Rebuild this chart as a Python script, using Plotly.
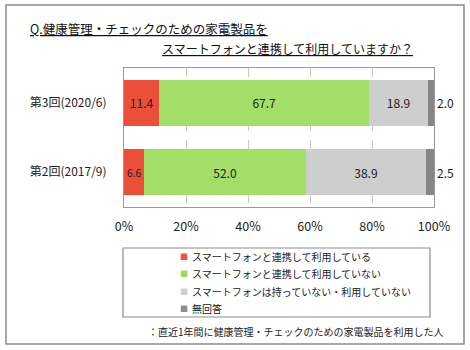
import plotly.graph_objects as go

categories = ["第3回(2020/6)", "第2回(2017/9)"]
series_names = ["スマートフォンと連携して利用している", "スマートフォンと連携して利用していない",
                "スマートフォンは持っていない・利用していない", "無回答"]
values = {
    series_names[0]: [11.4, 6.6],
    series_names[1]: [67.7, 52.0],
    series_names[2]: [18.9, 38.9],
    series_names[3]: [2.0, 2.5],
}
colors = ["#EB4F3A", "#A3DE68", "#CECECE", "#868686"]
tick_vals = [0, 20, 40, 60, 80, 100]
tick_text = ["0%", "20%", "40%", "60%", "80%", "100%"]

FONT = "Noto Sans CJK JP"
fig = go.Figure()
for i, name in enumerate(series_names):
    last = i == len(series_names) - 1
    fig.add_trace(go.Bar(
        y=categories, x=values[name], name=name, orientation="h",
        marker=dict(color=colors[i], line=dict(width=0)),
        text=[f"{v:.1f}" for v in values[name]],
        textposition="outside" if last else "inside",
        insidetextanchor="middle",
        textfont=dict(family=FONT, size=12, color="#222"),
        outsidetextfont=dict(family=FONT, size=12, color="#222"),
        cliponaxis=False,
        hoverinfo="skip",
        showlegend=False,
    ))

fig.update_layout(
    width=470, height=350,
    barmode="stack", bargap=0.34,
    margin=dict(l=124, r=36, t=68, b=143),
    paper_bgcolor="white", plot_bgcolor="white",
    font=dict(family=FONT, size=12, color="#222"),
    xaxis=dict(range=[0, 100], tickvals=tick_vals, ticktext=tick_text,
               showgrid=True, gridcolor="#C8C8C8", griddash="dash", gridwidth=1,
               zeroline=False, showline=True, linecolor="#999", mirror=True,
               ticks="", tickfont=dict(size=12.5, color="#222"), fixedrange=True,
               ticklabelstandoff=8),
    yaxis=dict(categoryorder="array", categoryarray=categories, autorange="reversed",
               showline=True, linecolor="#999", mirror=True, ticks="",
               tickfont=dict(size=12, color="#222"), ticklabelstandoff=14),
    showlegend=False,
)

def px_x(p):
    return (p - 124) / 310

def px_y(p):
    return (207 - p) / 139

# outer frame and legend frame
fig.add_shape(type="rect", xref="paper", yref="paper", x0=px_x(6), x1=px_x(464),
              y0=px_y(344), y1=px_y(5), line=dict(color="#8C8C8C", width=1.5))
fig.add_shape(type="rect", xref="paper", yref="paper", x0=px_x(123), x1=px_x(430),
              y0=px_y(317), y1=px_y(248), line=dict(color="#8C8C8C", width=1.2))

# manual legend
legend_rows = [256, 273, 291, 308]
legend_sq = ["#F04E3E", "#9ED55E", "#CFCFCF", "#8C8C8C"]
for name, col, yy in zip(series_names, legend_sq, legend_rows):
    fig.add_annotation(xref="paper", yref="paper", x=px_x(184), y=px_y(yy),
                       xanchor="center", yanchor="middle", text="■", showarrow=False,
                       font=dict(size=8, color=col))
    fig.add_annotation(xref="paper", yref="paper", x=px_x(190), y=px_y(yy),
                       xanchor="left", yanchor="middle", text=name, showarrow=False,
                       font=dict(size=10, color="#222"))

fig.add_annotation(xref="paper", yref="paper", x=px_x(28), y=px_y(28), xanchor="left", yanchor="middle",
                   text="<u>Q.健康管理・チェックのための家電製品を</u>", showarrow=False,
                   font=dict(size=12.5, color="#111"))
fig.add_annotation(xref="paper", yref="paper", x=px_x(160), y=px_y(49), xanchor="left", yanchor="middle",
                   text="<u>スマートフォンと連携して利用していますか？</u>", showarrow=False,
                   font=dict(size=12, color="#111"))
fig.add_annotation(xref="paper", yref="paper", x=px_x(146), y=px_y(331), xanchor="left", yanchor="middle",
                   text="：直近1年間に健康管理・チェックのための家電製品を利用した人", showarrow=False,
                   font=dict(size=10, color="#222"))

fig.write_html("out.html")
